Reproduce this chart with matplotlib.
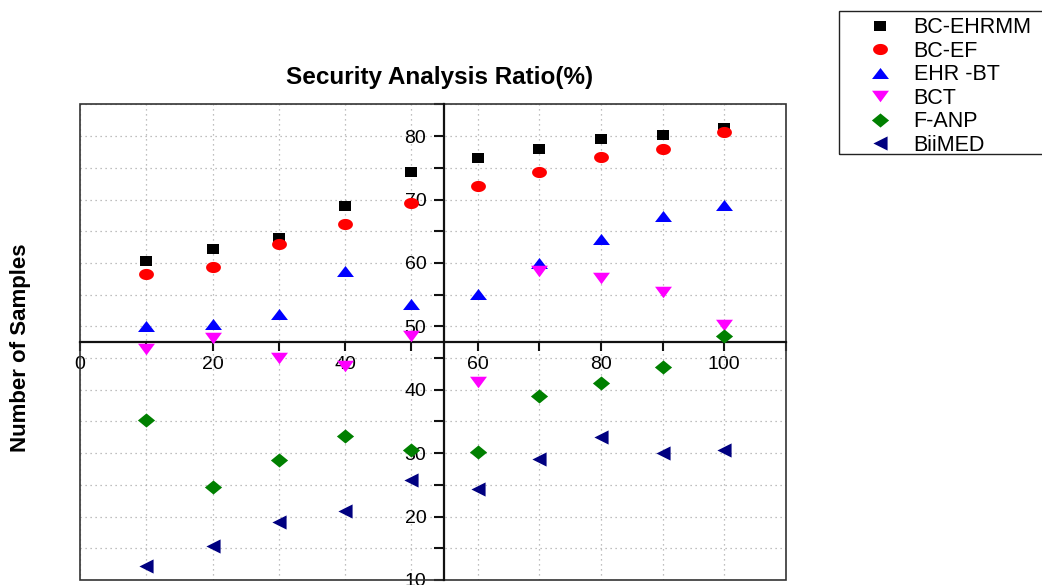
import numpy as np
import matplotlib
matplotlib.use("Agg")
import matplotlib.pyplot as plt
from matplotlib.patches import Rectangle

plt.rcParams['font.family'] = ['Liberation Sans', 'DejaVu Sans']

# ---- data ----
samples = [10, 20, 30, 40, 50, 60, 70, 80, 90, 100]
bc_ehrmm = [60.3, 62.2, 64.0, 68.9, 74.4, 76.6, 77.9, 79.6, 80.2, 81.3]
bc_ef = [58.2, 59.3, 63.0, 66.1, 69.5, 72.2, 74.3, 76.7, 77.9, 80.7]
ehr_bt = [50.1, 50.3, 52.0, 58.7, 53.5, 55.1, 60.0, 63.8, 67.4, 69.1]
bct = [46.5, 48.2, 45.0, 43.8, 48.4, 41.2, 58.8, 57.6, 55.4, 50.2]
f_anp = [35.3, 24.6, 28.9, 32.7, 30.5, 30.2, 39.0, 41.0, 43.6, 48.5]
biimed = [12.2, 15.3, 19.2, 20.9, 25.7, 24.3, 29.1, 32.5, 30.0, 30.5]

labels = ['BC-EHRMM', 'BC-EF', 'EHR -BT', 'BCT', 'F-ANP', 'BiiMED']
x_ticks = [0, 10, 20, 30, 40, 50, 60, 70, 80, 90, 100, 110]
x_ticklabels = ['0', '', '20', '', '40', '', '60', '', '80', '', '100', '']
y_ticks = [10, 15, 20, 25, 30, 35, 40, 45, 50, 55, 60, 65, 70, 75, 80, 85]
y_ticklabels = ['10', '', '20', '', '30', '', '40', '', '50', '', '60', '', '70', '', '80', '']

# ---- marker shapes (slightly wider than tall, as in the reference) ----
t = np.linspace(0, 2 * np.pi, 40)
m_square = [(-1, -0.83), (1, -0.83), (1, 0.83), (-1, 0.83), (-1, -0.83)]
m_circle = list(zip(np.cos(t), 0.75 * np.sin(t)))
m_up = [(0, 0.65), (-1, -0.65), (1, -0.65), (0, 0.65)]
m_down = [(0, -0.68), (-1, 0.68), (1, 0.68), (0, -0.68)]
m_diamond = [(-1, 0), (0, 0.82), (1, 0), (0, -0.82), (-1, 0)]
m_left = [(-1, 0), (1, 1), (1, -1), (-1, 0)]

series = [
    (bc_ehrmm, m_square, '#000000', 8.8),
    (bc_ef, m_circle, '#FF0000', 10.7),
    (ehr_bt, m_up, '#0000FF', 12.2),
    (bct, m_down, '#FF00FF', 12.2),
    (f_anp, m_diamond, '#008000', 12.4),
    (biimed, m_left, '#000080', 10.2),
]

fig = plt.figure(figsize=(10.42, 5.85), dpi=100)
W, H = 1042, 585
ax = fig.add_axes([80 / W, 5 / H, 706 / W, 475.6 / H])

# piecewise x-scale (right half of the reference is slightly compressed)
k = 0.931
def fwd(v):
    v = np.asarray(v, dtype=float)
    return np.where(v <= 60, v, 60 + (v - 60) * k)
def inv(u):
    u = np.asarray(u, dtype=float)
    return np.where(u <= 60, u, 60 + (u - 60) / k)
ax.set_xscale('function', functions=(fwd, inv))

handles = []
for vals, mk, col, ms in series:
    h, = ax.plot(samples, vals, linestyle='none', marker=mk, color=col,
                 markersize=ms, markeredgewidth=0, clip_on=False, zorder=3)
    handles.append(h)

ax.set_xlim(0, 110)
ax.set_ylim(10, 85)

ax.set_xticks(x_ticks)
ax.set_xticklabels(x_ticklabels)
ax.set_yticks(y_ticks)
ax.set_yticklabels(y_ticklabels)

ax.spines['left'].set_position(('data', 55))
ax.spines['bottom'].set_position(('data', 47.5))
ax.spines['top'].set_visible(False)
ax.spines['right'].set_visible(False)
for s in ('left', 'bottom'):
    ax.spines[s].set_linewidth(1.6)
    ax.spines[s].set_color('#111111')
    ax.spines[s].set_zorder(2.5)

ax.tick_params(axis='x', direction='out', length=6.3, width=1.5, pad=3.3,
               labelsize=14, colors='#111111', labelcolor='black')
ax.tick_params(axis='y', direction='out', length=7.5, width=1.5, pad=5.5,
               labelsize=14, colors='#111111', labelcolor='black')

ax.grid(True, color='#aaaaaa', linestyle=(0, (1, 3)), linewidth=0.9, zorder=0)
ax.set_axisbelow(True)

# outer frame
ax.add_patch(Rectangle((0, 0), 1, 1, transform=ax.transAxes, fill=False,
                       edgecolor='#333333', linewidth=1.2, clip_on=False, zorder=2))

fig.text(440 / W, 1 - 84 / H, 'Security Analysis Ratio(%)', ha='center',
         va='baseline', fontsize=17.5, fontweight='bold')
fig.text(21 / W, 1 - 347.5 / H, 'Number of Samples', rotation=90, ha='center',
         va='center', fontsize=16, fontweight='bold')

fig.legend(handles, labels, loc='upper left',
           bbox_to_anchor=(869.6 / W, 1 - 17.4 / H), frameon=False,
           borderpad=0, borderaxespad=0, handlelength=1.0, handletextpad=1.05,
           labelspacing=0.115, fontsize=15.5, numpoints=1)
fig.patches.append(Rectangle((839 / W, 1 - 154 / H), 210 / W, 143 / H,
                             transform=fig.transFigure, fill=False,
                             edgecolor='#222222', linewidth=1.0))

fig.savefig('out.png', dpi=100)
